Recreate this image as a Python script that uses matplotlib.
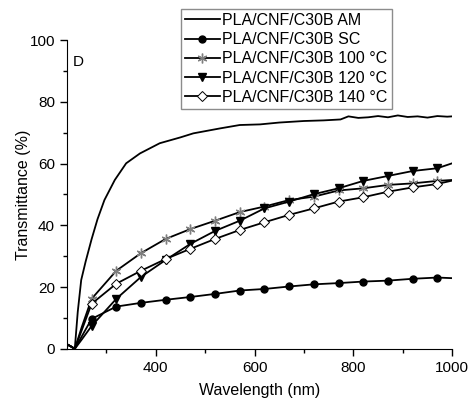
import matplotlib
matplotlib.use("Agg")
import matplotlib.pyplot as plt
from matplotlib.ticker import MultipleLocator

plt.rcParams['font.family'] = ['Liberation Sans', 'DejaVu Sans']

# wavelength grid shared by the marked series (markers every 50 nm, 270..970)
wl = [220, 228, 236, 250, 270, 320, 370, 420, 470, 520, 570, 620, 670,
      720, 770, 820, 870, 920, 970, 1000]

sc = [1.5, 0.8, 0, 4.0, 9.7, 13.7, 14.9, 15.9, 16.8, 17.8, 18.9, 19.4, 20.2,
      20.9, 21.3, 21.8, 22.1, 22.7, 23.1, 22.9]
t100 = [1.5, 0.8, 0, 7.0, 16.2, 25.3, 31.0, 35.6, 38.8, 41.5, 44.3, 46.1, 48.2,
        49.3, 51.3, 52.0, 53.1, 53.6, 54.4, 54.7]
t120 = [1.5, 0.8, 0, 3.0, 7.4, 16.2, 23.3, 28.8, 34.0, 38.2, 41.5, 45.5, 47.7,
        50.1, 52.0, 54.4, 56.0, 57.6, 58.5, 60.1]
t140 = [1.5, 0.8, 0, 6.0, 14.6, 21.1, 25.3, 29.1, 32.4, 35.6, 38.5, 41.0, 43.4,
        45.5, 47.7, 49.1, 50.9, 52.3, 53.4, 54.5]

# AM curve (no markers, denser sampling)
wl_am = [220, 228, 236, 242, 249, 258, 270, 282, 296, 317, 340, 368, 408, 450,
         476, 530, 570, 611, 650, 700, 740, 774, 790, 810, 830, 850, 870, 890,
         910, 930, 950, 970, 990, 1000]
am = [1.5, 0.8, 0, 12.0, 22.3, 28.3, 35.5, 42.0, 48.2, 54.7, 60.1, 63.3, 66.6,
      68.5, 69.8, 71.4, 72.5, 72.7, 73.3, 73.8, 74.0, 74.3, 75.3, 74.8, 75.0,
      75.4, 75.0, 75.6, 75.1, 75.3, 74.9, 75.4, 75.2, 75.3]

labels = ['PLA/CNF/C30B AM', 'PLA/CNF/C30B SC', 'PLA/CNF/C30B 100 °C',
          'PLA/CNF/C30B 120 °C', 'PLA/CNF/C30B 140 °C']

fig = plt.figure(figsize=(4.71, 4.01), dpi=100)
ax = fig.add_axes([0.142, 0.13, 0.818, 0.77])

mk = slice(4, 19)
lw = 1.3
ax.plot(wl_am, am, color='black', lw=lw, label=labels[0])
ax.plot(wl, sc, color='black', lw=lw, marker='o', ms=5, markevery=mk,
        label=labels[1])
ax.plot(wl, t100, color='black', lw=lw, marker=(6, 2, 0), ms=7,
        mec='#7f7f7f', mew=1.0, markevery=mk, label=labels[2])
ax.plot(wl, t120, color='black', lw=lw, marker='v', ms=6, markevery=mk,
        label=labels[3])
ax.plot(wl, t140, color='black', lw=lw, marker='D', ms=5.5, mfc='white',
        mec='black', mew=0.7, markevery=mk, label=labels[4])

ax.set_xlim(220, 1000)
ax.set_ylim(0, 100)
ax.xaxis.set_major_locator(MultipleLocator(200))
ax.xaxis.set_minor_locator(MultipleLocator(100))
ax.yaxis.set_major_locator(MultipleLocator(20))
ax.yaxis.set_minor_locator(MultipleLocator(10))
ax.set_xticks([400, 600, 800, 1000])
ax.tick_params(which='major', direction='out', length=5, width=1, labelsize=11)
ax.tick_params(which='minor', direction='out', length=3, width=1)
for s in ['top', 'right']:
    ax.spines[s].set_visible(False)

ax.set_xlabel('Wavelength (nm)', fontsize=11.5, labelpad=6)
ax.set_ylabel('Transmittance (%)', fontsize=11.5, labelpad=-1)
ax.text(0.016, 0.929, 'D', transform=ax.transAxes, fontsize=11, va='center')

leg = fig.legend(loc='upper left', bbox_to_anchor=(0.384, 0.978),
                 bbox_transform=fig.transFigure, fontsize=11.5,
                 handlelength=2.2, handletextpad=0.15, labelspacing=0.27,
                 borderpad=0.25, borderaxespad=0, fancybox=False,
                 framealpha=1, edgecolor='#8c8c8c')
leg.get_frame().set_linewidth(1.0)

fig.savefig('out.png', dpi=100)
